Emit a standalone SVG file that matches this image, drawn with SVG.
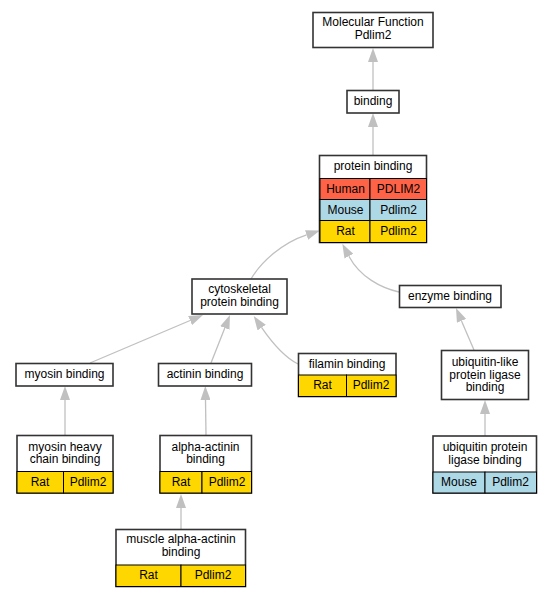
<svg xmlns="http://www.w3.org/2000/svg" width="551" height="597" viewBox="0 0 551 597">
<style>
text{font-family:"Liberation Sans",Arial,sans-serif;font-size:12px;text-anchor:middle;fill:#000}
.n{fill:#fff;stroke:#333;stroke-width:1.6}
.c{stroke:#000;stroke-width:1}
.h{fill:#ff6347}.m{fill:#add8e6}.r{fill:#ffd700}
.e{fill:none;stroke:#c0c0c0;stroke-width:1.3}
</style>
<defs>
<marker id="a" viewBox="0 0 14 10" refX="0" refY="5" markerWidth="14" markerHeight="10" markerUnits="userSpaceOnUse" orient="auto">
<path d="M0,0 L14,5 L0,10 z" fill="#c0c0c0"/>
</marker>
</defs>
<g id="edges">
<path class="e" marker-end="url(#a)" d="M373,90 L373,62"/>
<path class="e" marker-end="url(#a)" d="M373,155 L373,127"/>
<path class="e" marker-end="url(#a)" d="M251,279 C261,262 282,243 306.6,234.9"/>
<path class="e" marker-end="url(#a)" d="M399,292 C381,288 360,277 348.9,256.2"/>
<path class="e" marker-end="url(#a)" d="M90,363 L190.1,320.5"/>
<path class="e" marker-end="url(#a)" d="M211,363 L224.8,328"/>
<path class="e" marker-end="url(#a)" d="M298,364 C286,358 273,344 261.7,327.6"/>
<path class="e" marker-end="url(#a)" d="M474,350 L461.5,320.9"/>
<path class="e" marker-end="url(#a)" d="M65,435 L65,400"/>
<path class="e" marker-end="url(#a)" d="M206,435 L205.5,400"/>
<path class="e" marker-end="url(#a)" d="M181,529 L181,508"/>
<path class="e" marker-end="url(#a)" d="M485,436 L485,414"/>
</g>
<g id="mf">
<rect class="n" x="313" y="12.5" width="120" height="35"/>
<text x="373" y="26">Molecular Function</text>
<text x="373" y="39">Pdlim2</text>
</g>
<g id="binding">
<rect class="n" x="347" y="90.5" width="52" height="22.5"/>
<text x="373" y="105">binding</text>
</g>
<g id="protein_binding">
<rect class="n" x="319.5" y="155.5" width="107" height="87"/>
<text x="373" y="170">protein binding</text>
<rect class="c h" x="320" y="178.5" width="50" height="21"/>
<rect class="c h" x="370" y="178.5" width="56.5" height="21"/>
<rect class="c m" x="320" y="199.5" width="50" height="21"/>
<rect class="c m" x="370" y="199.5" width="56.5" height="21"/>
<rect class="c r" x="320" y="220.5" width="50" height="22"/>
<rect class="c r" x="370" y="220.5" width="56.5" height="22"/>
<text x="345.5" y="192.5">Human</text>
<text x="398.5" y="192.5">PDLIM2</text>
<text x="345.5" y="213.5">Mouse</text>
<text x="398.5" y="213.5">Pdlim2</text>
<text x="345.5" y="234.5">Rat</text>
<text x="398.5" y="234.5">Pdlim2</text>
</g>
<g id="cytoskeletal">
<rect class="n" x="192" y="279" width="95" height="35"/>
<text x="239.5" y="293">cytoskeletal</text>
<text x="239.5" y="306">protein binding</text>
</g>
<g id="enzyme">
<rect class="n" x="399.5" y="285.5" width="101.5" height="22"/>
<text x="450" y="299.5">enzyme binding</text>
</g>
<g id="myosin">
<rect class="n" x="16" y="363.5" width="97" height="22.5"/>
<text x="64.5" y="378">myosin binding</text>
</g>
<g id="actinin">
<rect class="n" x="158.5" y="363.5" width="93" height="22.5"/>
<text x="205" y="378">actinin binding</text>
</g>
<g id="filamin">
<rect class="n" x="298.5" y="353.5" width="97.5" height="43"/>
<text x="347" y="367.5">filamin binding</text>
<rect class="c r" x="298.5" y="375" width="48" height="21.5"/>
<rect class="c r" x="346.5" y="375" width="49.5" height="21.5"/>
<text x="322.5" y="388.5">Rat</text>
<text x="371" y="388.5">Pdlim2</text>
</g>
<g id="ubiquitin_like">
<rect class="n" x="441.5" y="350.5" width="87" height="49"/>
<text x="485" y="366">ubiquitin-like</text>
<text x="485" y="378.5">protein ligase</text>
<text x="485" y="391">binding</text>
</g>
<g id="myosin_heavy">
<rect class="n" x="17" y="435.5" width="96" height="57.5"/>
<text x="65" y="450.5">myosin heavy</text>
<text x="65" y="463">chain binding</text>
<rect class="c r" x="17" y="471.5" width="46.5" height="21.5"/>
<rect class="c r" x="63.5" y="471.5" width="49.5" height="21.5"/>
<text x="40" y="485.5">Rat</text>
<text x="88" y="485.5">Pdlim2</text>
</g>
<g id="alpha_actinin">
<rect class="n" x="160" y="435.5" width="91.5" height="57.5"/>
<text x="205.5" y="450.5">alpha-actinin</text>
<text x="205.5" y="463">binding</text>
<rect class="c r" x="160" y="471.5" width="42" height="21.5"/>
<rect class="c r" x="202" y="471.5" width="49.5" height="21.5"/>
<text x="181" y="485.5">Rat</text>
<text x="227" y="485.5">Pdlim2</text>
</g>
<g id="ubiquitin_protein">
<rect class="n" x="433" y="436" width="103.5" height="57"/>
<text x="485" y="451">ubiquitin protein</text>
<text x="485" y="463.5">ligase binding</text>
<rect class="c m" x="433" y="472" width="52" height="21"/>
<rect class="c m" x="485" y="472" width="51.5" height="21"/>
<text x="459" y="485.5">Mouse</text>
<text x="510.5" y="485.5">Pdlim2</text>
</g>
<g id="muscle_alpha">
<rect class="n" x="116" y="529.5" width="129.5" height="57"/>
<text x="181" y="543">muscle alpha-actinin</text>
<text x="181" y="556">binding</text>
<rect class="c r" x="116" y="565" width="65" height="21.5"/>
<rect class="c r" x="181" y="565" width="64.5" height="21.5"/>
<text x="148.5" y="579">Rat</text>
<text x="213" y="579">Pdlim2</text>
</g>
</svg>
